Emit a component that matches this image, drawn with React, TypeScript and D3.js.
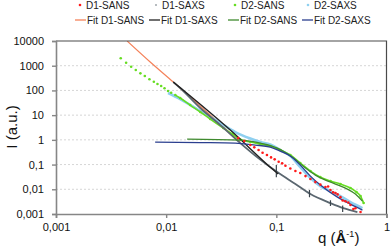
import React, { useEffect, useRef } from 'react';
import * as d3 from 'd3';

type Pt = [number, number];

const xTicks = [0.001, 0.01, 0.1, 1];
const yTicks = [0.001, 0.01, 0.1, 1, 10, 100, 1000, 10000];

// D1-SANS (red dots)
const d1Sans: Pt[] = [
  [0.0451, 1.18], [0.0512, 0.89], [0.0581, 0.615], [0.0631, 0.497], [0.069, 0.386],
  [0.075, 0.3], [0.0822, 0.243], [0.0895, 0.195], [0.0966, 0.163], [0.105, 0.13],
  [0.113, 0.112], [0.121, 0.089], [0.134, 0.069], [0.149, 0.0546], [0.165, 0.0453],
  [0.184, 0.0342], [0.204, 0.0259], [0.226, 0.0195], [0.251, 0.0155], [0.279, 0.0123],
  [0.295, 0.013], [0.31, 0.0093], [0.327, 0.0075], [0.344, 0.007], [0.36, 0.0062],
  [0.382, 0.0048], [0.4, 0.0035], [0.424, 0.0033], [0.45, 0.0029], [0.471, 0.0023],
  [0.5, 0.0016], [0.522, 0.0017], [0.581, 0.0012],
];

// D1-SAXS (grey)
const d1Saxs: Pt[] = [
  [0.0116, 219], [0.0134, 125], [0.0204, 19.4], [0.031, 3.97], [0.0471, 0.74],
  [0.0686, 0.183], [0.102, 0.0497], [0.149, 0.0163], [0.204, 0.0064], [0.31, 0.00276],
  [0.406, 0.00173], [0.544, 0.00119],
];
// error bars on D1-SAXS: q, low, high
const d1SaxsErr: [number, number, number][] = [
  [0.1, 0.031, 0.095], [0.2, 0.0048, 0.0093], [0.31, 0.0021, 0.0036], [0.4, 0.0012, 0.0022],
];

// D2-SANS (green dots)
const d2Sans: Pt[] = [
  [0.00387, 1995], [0.00433, 1322], [0.00481, 912], [0.0053, 670], [0.00584, 492],
  [0.0064, 383], [0.00705, 282], [0.00773, 225], [0.00834, 182], [0.00901, 151],
  [0.00966, 122], [0.0104, 95], [0.0111, 81], [0.0121, 65.2], [0.0134, 49.2],
  [0.0165, 25.6], [0.0204, 13.4], [0.0251, 6.95], [0.033, 3.0], [0.0398, 1.72],
  [0.0471, 1.03], [0.0581, 0.815], [0.0716, 0.676], [0.0881, 0.561], [0.1086, 0.386],
  [0.134, 0.243], [0.165, 0.115], [0.204, 0.0546], [0.251, 0.031], [0.31, 0.0215],
  [0.382, 0.0163], [0.471, 0.0112], [0.534, 0.0077], [0.581, 0.0053], [0.62, 0.0028],
];

// D2-SAXS (light blue)
const d2Saxs: Pt[] = [
  [0.0104, 78.5], [0.0134, 44.9], [0.0204, 14.7], [0.031, 4.79], [0.0424, 2.07],
  [0.0581, 1.13], [0.0716, 0.815], [0.0881, 0.645], [0.1086, 0.386], [0.134, 0.221],
  [0.165, 0.079], [0.204, 0.0284], [0.251, 0.0135], [0.31, 0.00845], [0.382, 0.0053],
  [0.471, 0.003], [0.605, 0.00173],
];

const fitD1Sans: Pt[] = [[0.00442, 10000], [0.00716, 1413], [0.0116, 219], [0.047, 0.8]];
const fitD1Saxs: Pt[] = [[0.0116, 219], [0.0382, 2.49], [0.092, 0.0658], [0.104, 0.0412]];
const fitD2Sans: Pt[] = [
  [0.0155, 1.08], [0.0471, 0.98], [0.0716, 0.74], [0.102, 0.466], [0.143, 0.183],
  [0.184, 0.072], [0.226, 0.0376], [0.279, 0.0236], [0.344, 0.0163], [0.441, 0.0102],
  [0.522, 0.0064], [0.605, 0.0033],
];
const fitD2Saxs: Pt[] = [
  [0.00794, 0.815], [0.0204, 0.778], [0.0424, 0.74], [0.0644, 0.615], [0.0881, 0.512],
  [0.1086, 0.352], [0.134, 0.221], [0.165, 0.095], [0.204, 0.0342], [0.251, 0.0148],
  [0.359, 0.0048], [0.471, 0.0025], [0.605, 0.00144],
];

const legendMarkers = ['D1-SANS', 'D1-SAXS', 'D2-SANS', 'D2-SAXS'];
const legendMarkerColors = ['#ff1a1a', '#5b6770', '#66dd22', '#8fd0f0'];
const legendFits = ['Fit D1-SANS', 'Fit D1-SAXS', 'Fit D2-SANS', 'Fit D2-SAXS'];
const legendFitColors = ['#f4825a', '#222222', '#3f8a2e', '#2b3f8f'];

const App = () => {
  const ref = useRef<SVGSVGElement>(null);

  useEffect(() => {
    const svg = d3.select(ref.current);
    svg.selectAll('*').remove();

    const left = 56, right = 386.5, top = 41, bottom = 214;
    const x = d3.scaleLog().domain([0.001, 1]).range([left, right]);
    const y = d3.scaleLog().domain([0.001, 10000]).range([bottom, top]);
    const font = '"Liberation Sans", Arial, sans-serif';
    const fmt = (d: number) => String(d).replace('.', ',');

    // gridlines
    svg.append('g')
      .selectAll('line')
      .data(yTicks.slice(1, -1))
      .enter()
      .append('line')
      .attr('x1', left).attr('x2', right)
      .attr('y1', (d) => y(d)).attr('y2', (d) => y(d))
      .attr('stroke', '#d6d6d6')
      .attr('stroke-dasharray', '2,2');

    const clip = svg.append('clipPath').attr('id', 'plot-clip');
    clip.append('rect').attr('x', left).attr('y', top).attr('width', right - left).attr('height', bottom - top);
    const plot = svg.append('g').attr('clip-path', 'url(#plot-clip)');

    const line = d3.line<Pt>()
      .x((d) => x(d[0]))
      .y((d) => y(d[1]))
      .curve(d3.curveMonotoneX);

    const drawLine = (data: Pt[], color: string, w: number) =>
      plot.append('path').datum(data).attr('d', line).attr('fill', 'none')
        .attr('stroke', color).attr('stroke-width', w);
    const drawDots = (data: Pt[], color: string, r: number) =>
      plot.append('g').selectAll('circle').data(data).enter().append('circle')
        .attr('cx', (d) => x(d[0])).attr('cy', (d) => y(d[1])).attr('r', r).attr('fill', color);

    drawLine(fitD1Sans, legendFitColors[0], 1.2);
    drawLine(d2Saxs, legendMarkerColors[3], 2.6);
    drawLine(d2Sans.filter((d) => d[0] > 0.012), legendMarkerColors[2], 1.6);
    drawDots(d2Sans, legendMarkerColors[2], 1.3);
    drawLine(d1Saxs, legendMarkerColors[1], 1.8);
    plot.append('g').selectAll('line').data(d1SaxsErr).enter().append('line')
      .attr('x1', (d) => x(d[0])).attr('x2', (d) => x(d[0]))
      .attr('y1', (d) => y(d[1])).attr('y2', (d) => y(d[2]))
      .attr('stroke', '#3a444c').attr('stroke-width', 1.2);
    drawLine(fitD1Saxs, legendFitColors[1], 1.4);
    drawLine(fitD2Sans, legendFitColors[2], 1.3);
    drawLine(fitD2Saxs, legendFitColors[3], 1.3);
    drawDots(d1Sans, legendMarkerColors[0], 1.3);

    // plot border (top/right)
    svg.append('path')
      .attr('d', `M${left},${top}H${right}V${bottom}`)
      .attr('fill', 'none').attr('stroke', '#4a4a4a').attr('stroke-width', 1.2);

    // y axis
    const yAxis = svg.append('g').attr('transform', `translate(${left},0)`)
      .call(d3.axisLeft(y).tickValues(yTicks).tickFormat((d) => fmt(+d)).tickSize(4).tickPadding(8));
    // x axis
    const xAxis = svg.append('g').attr('transform', `translate(0,${bottom})`)
      .call(d3.axisBottom(x).tickValues(xTicks).tickFormat((d) => fmt(+d)).tickSize(4).tickPadding(5));
    [yAxis, xAxis].forEach((a) => {
      a.select('.domain').attr('stroke', '#868686').attr('stroke-width', 1.6);
      a.selectAll('.tick line').attr('stroke', '#868686').attr('stroke-width', 1.4);
      a.selectAll('text').attr('font-family', font).attr('font-size', 11).attr('fill', '#111');
    });

    // axis titles
    svg.append('text')
      .attr('transform', 'translate(17,127) rotate(-90)')
      .attr('text-anchor', 'middle')
      .attr('font-family', font).attr('font-size', 15).attr('fill', '#111')
      .text('I (a.u.)');
    const qt = svg.append('text')
      .attr('x', 318).attr('y', 243)
      .attr('font-family', font).attr('font-size', 15).attr('fill', '#111');
    qt.append('tspan').text('q (');
    qt.append('tspan').attr('font-weight', 'bold').text('Å');
    qt.append('tspan').attr('font-size', 9).attr('dy', -6).text('-1');
    qt.append('tspan').attr('dy', 6).text(')');

    // legend
    const markerX = [80, 156, 235, 308];
    const fitX = [75, 149, 228, 302];
    legendMarkers.forEach((name, i) => {
      svg.append('circle').attr('cx', markerX[i]).attr('cy', 5).attr('r', i === 1 ? 0.8 : 1.3)
        .attr('fill', legendMarkerColors[i]);
      svg.append('text').attr('x', markerX[i] + 6).attr('y', 9)
        .attr('font-family', font).attr('font-size', 10).attr('fill', '#222').text(name);
    });
    legendFits.forEach((name, i) => {
      svg.append('line').attr('x1', fitX[i]).attr('x2', fitX[i] + 11).attr('y1', 20).attr('y2', 20)
        .attr('stroke', legendFitColors[i]).attr('stroke-width', 1.3);
      svg.append('text').attr('x', fitX[i] + 12).attr('y', 24)
        .attr('font-family', font).attr('font-size', 10).attr('fill', '#222').text(name);
    });
  }, []);

  return (
    <svg ref={ref} width={392} height={249} style={{ position: 'absolute', left: 0, top: 0, background: '#fff' }} />
  );
};

export default App;
